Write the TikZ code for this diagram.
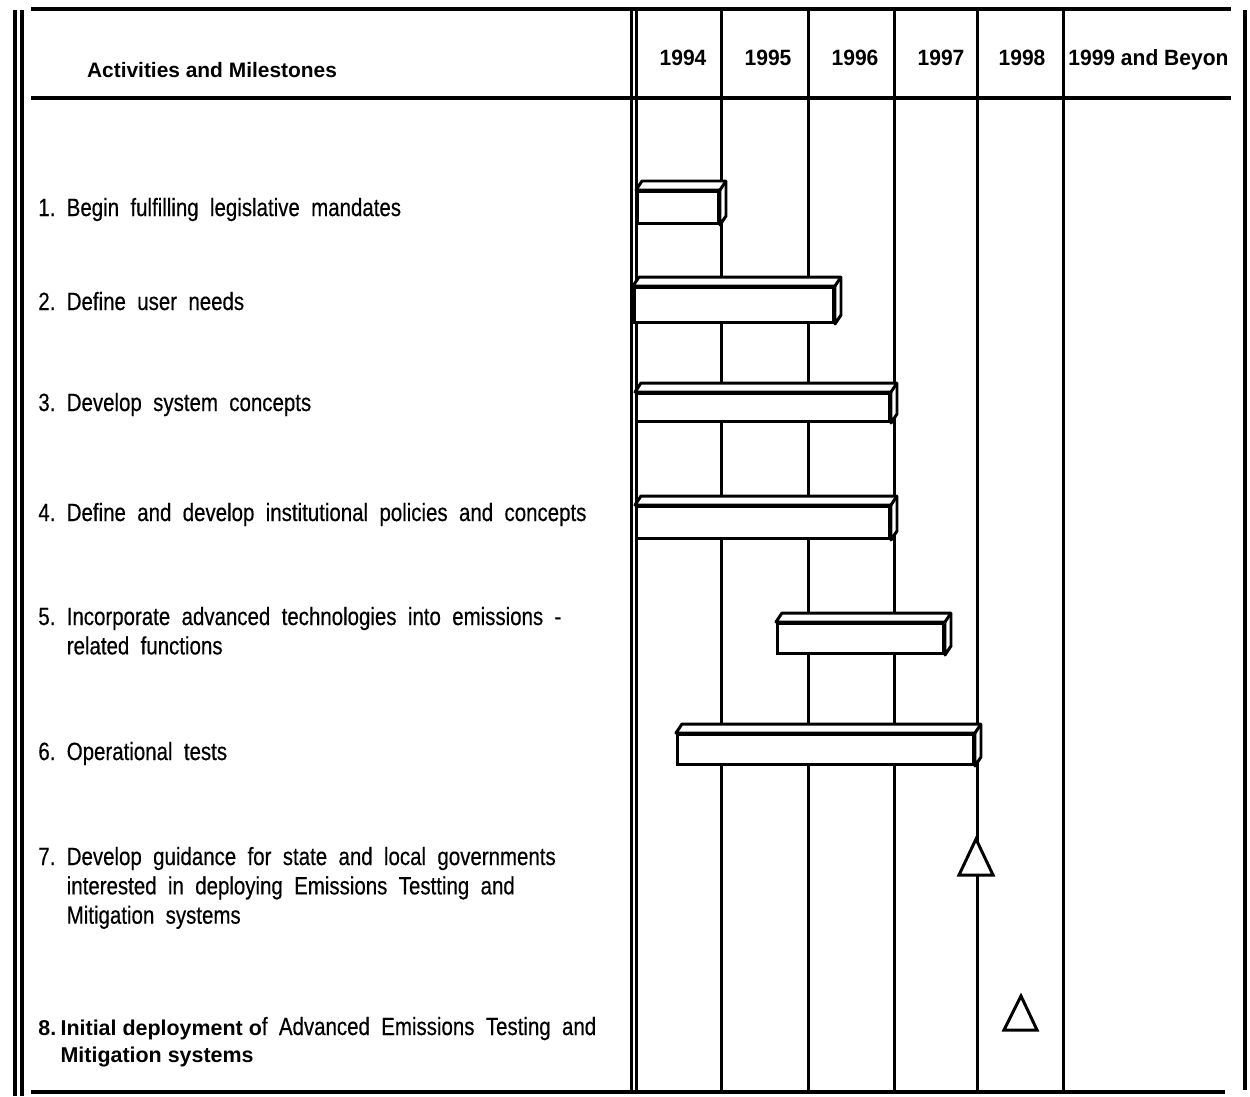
\documentclass[tikz,border=0pt]{standalone}
\usepackage{fontspec}
\setmainfont{Liberation Sans}
\newfontfamily\narrowfont[FakeStretch=0.82,WordSpace=2.0,FakeBold=0.4]{Liberation Sans}
\newfontfamily\yearfont[FakeStretch=0.95]{Liberation Sans}
\usetikzlibrary{calc}

\begin{document}
\begin{tikzpicture}[
  x=0.02cm, y=-0.02cm,
  rule/.style={line width=2.8pt},
  grid/.style={line width=1.7pt},
  head/.style={font=\fontsize{11.9pt}{14pt}\selectfont\bfseries,inner sep=0pt},
  year/.style={font=\fontsize{12.6pt}{14pt}\selectfont\yearfont\bfseries,inner sep=0pt},
  task/.style={anchor=base west,inner sep=0pt,
    font=\fontsize{14.2pt}{16.7pt}\selectfont\narrowfont},
  barfront/.style={draw,fill=white,line width=1.7pt,anchor=north west,inner sep=0pt},
  barface/.style={draw,fill=white,line width=1.7pt,line join=round},
  milestone/.style={draw,fill=white,line width=1.7pt}
]
  \useasboundingbox (0,0) rectangle (1250,1096);

  % frame and rules
  \draw[rule] (15,10) -- (15,1096);
  \draw[rule] (22,10) -- (22,1096);
  \draw[rule] (1245,10) -- (1245,1090);
  \draw[rule] (31,9) -- (1231,9);
  \draw[rule] (31,98) -- (1231,98);
  \draw[rule] (31,1092) -- (1225,1092);

  \foreach \x in {631,636,721,808,894,977,1063} {
    \draw[grid] (\x,9) -- (\x,1092);
  }

  % header
  \node[head,anchor=base] (act) at (212,77) {Activities and Milestones};
  \foreach \yr/\x in {1994/683,1995/768,1996/855,1997/941,1998/1022} {
    \node[year,anchor=base] (y\yr) at (\x,65) {\yr};
  }
  \begin{scope}
    \clip (1063,9) rectangle (1228,98);
    \node[year,anchor=base west] (ybeyond) at (1068,65) {1999 and Beyond};
  \end{scope}

  % activities
  \node[task] (t1) at (38,216) {1.\ Begin fulfilling legislative mandates};
  \node[task] (t2) at (38,310) {2.\ Define user needs};
  \node[task] (t3) at (38,411) {3.\ Develop system concepts};
  \node[task] (t4) at (38,521) {4.\ Define and develop institutional policies and concepts};
  \node[task] (t5) at (38,625) {5.\ \begin{tabular}[t]{@{}l@{}}Incorporate advanced technologies into emissions -\\
    related functions\end{tabular}};
  \node[task] (t6) at (38,760) {6.\ Operational tests};
  \node[task] (t7) at (38,865) {7.\ \begin{tabular}[t]{@{}l@{}}Develop guidance for state and local governments\\
    interested in deploying Emissions Testting and\\Mitigation systems\end{tabular}};
  \node[task,font=\fontsize{12.2pt}{15.9pt}\selectfont\bfseries] (t8) at (38,1035)
    {8.\hspace{2.5pt}\begin{tabular}[t]{@{}l@{}}Initial deployment o{\narrowfont\mdseries\fontsize{14.2pt}{15.9pt}\selectfont f Advanced Emissions Testing and}\\
    Mitigation systems\end{tabular}};

  % bars
  \foreach \n/\xa/\xb/\yt/\h in {1/636/717/190/32,2/633/832/286/35,3/635/888/392/28,
                                 4/635/888/505/32,5/776/942/622/30,6/676/972/733/30} {
    \node[barfront,minimum width={(\xb-\xa)*0.02cm},minimum height={\h*0.02cm}]
      (bar\n) at (\xa,\yt) {};
    \draw[barface] (bar\n.north west) -- ++(6,-9) -- ($(bar\n.north east)+(6,-9)$)
      -- ($(bar\n.south east)+(6,-9)$) -- (bar\n.south east) -- (bar\n.north east) -- cycle;
    \draw[barface] (bar\n.north east) -- ++(6,-9);
  }

  % milestones
  \coordinate (m7) at (976,839);
  \draw[milestone] (m7) -- ++(17,36) -- ++(-34,0) -- cycle;
  \coordinate (m8) at (1021,996);
  \draw[milestone] (m8) -- ++(16,34) -- ++(-33,0) -- cycle;
\end{tikzpicture}
\end{document}
